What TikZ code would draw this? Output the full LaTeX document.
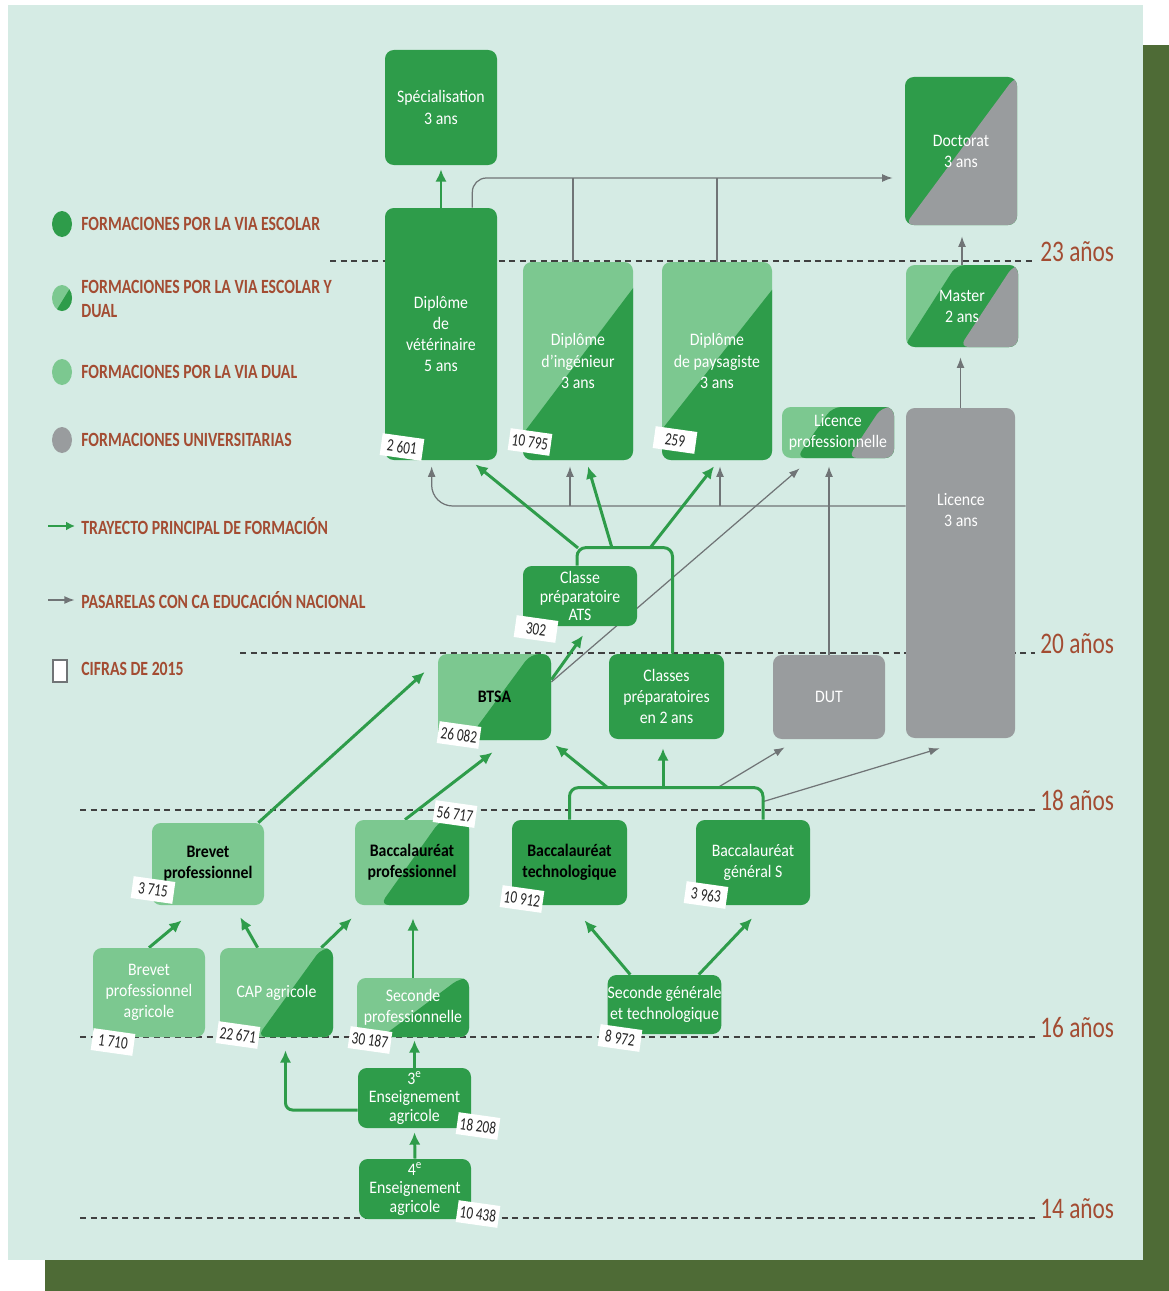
\documentclass[tikz,border=0pt]{standalone}
\usepackage{fontspec}
\setmainfont{Carlito}
\newfontfamily\boxfont[FakeStretch=0.9]{Carlito}
\newfontfamily\legfont[FakeStretch=0.78]{Carlito}
\newfontfamily\numfont[FakeStretch=0.75]{Carlito}
\usetikzlibrary{arrows.meta,calc,shapes.geometric}
\definecolor{mint}{RGB}{213,235,228}
\definecolor{olive}{RGB}{78,107,54}
\definecolor{dgreen}{RGB}{46,156,74}
\definecolor{lgreen}{RGB}{124,200,144}
\definecolor{ugrey}{RGB}{153,156,158}
\definecolor{agrey}{RGB}{112,116,118}
\definecolor{brick}{RGB}{163,76,50}
\pgfdeclarelayer{bg}
\pgfdeclarelayer{lines}
\pgfsetlayers{bg,lines,main}

\tikzset{
    wh/.style 2 args={minimum width=#1*0.02cm, minimum height=#2*0.02cm},
    box/.style={rectangle, rounded corners=5pt, inner sep=0pt, align=center, text=white,
        font={\boxfont\fontsize{10}{12}\selectfont}},
    tight/.style={font={\boxfont\fontsize{10}{10.5}\selectfont}},
    darktext/.style={text=black, font={\boxfont\bfseries\fontsize{10}{12}\selectfont}},
    escolar/.style={box, fill=dgreen},
    dual/.style={box, fill=lgreen},
    univ/.style={box, fill=ugrey},
    split/.style n args={4}{fill=#1, path picture={
        \fill[#2] ($(path picture bounding box.south west)!#3!(path picture bounding box.south east)$)
            -- ($(path picture bounding box.north west)!#4!(path picture bounding box.north east)$)
            -- ++(100,0) |- (path picture bounding box.south east) -- cycle;}},
    tri/.style n args={7}{fill=#1, path picture={
        \fill[#2] ($(path picture bounding box.south west)!#4!(path picture bounding box.south east)$)
            -- ($(path picture bounding box.north west)!#5!(path picture bounding box.north east)$)
            -- ++(100,0) |- (path picture bounding box.south east) -- cycle;
        \fill[#3] ($(path picture bounding box.south west)!#6!(path picture bounding box.south east)$)
            -- ($(path picture bounding box.north west)!#7!(path picture bounding box.north east)$)
            -- ++(100,0) |- (path picture bounding box.south east) -- cycle;}},
    badge/.style={fill=white, inner sep=0pt, wh={42}{22}, rotate=-8, text=black!85,
        font={\numfont\fontsize{10}{10}\selectfont}},
    dot/.style={ellipse, inner sep=0pt, wh={20}{26}},
    legtext/.style={anchor=west, inner sep=0pt, text=brick, align=left,
        font={\legfont\bfseries\fontsize{11.5}{13.6}\selectfont}},
    age/.style={anchor=base west, inner sep=0pt, text=brick, font={\legfont\fontsize{17}{17}\selectfont}},
    ageline/.style={draw=black!75, line width=0.8pt, dash pattern=on 3.5pt off 2.5pt},
    main/.style={draw=dgreen, line width=1.7pt, -{Latex[length=7pt,width=6.5pt]}},
    fork/.style={draw=dgreen, line width=1.7pt, rounded corners=5pt},
    pass/.style={draw=agrey, line width=0.7pt, -{Latex[length=6pt,width=4.5pt]}},
    passline/.style={draw=agrey, line width=0.7pt}
}

\begin{document}
\begin{tikzpicture}[x=0.02cm, y=-0.02cm]
    \useasboundingbox (0,0) rectangle (1169,1291);
    \begin{pgfonlayer}{bg}
        \fill[white] (0,0) rectangle (1169,1291);
        \fill[olive] (45,45) rectangle (1169,1291);
        \fill[mint] (8,5) rectangle (1143,1260);
    \end{pgfonlayer}

    \node[escolar, wh={112}{115}] at (441,107.5) (spec) {Spécialisation\\3 ans};
    \node[escolar, wh={112}{252}] at (441,334) (vet) {Diplôme\\de\\vétérinaire\\5 ans};
    \node[box, split={lgreen}{dgreen}{-0.18}{1.18}, wh={110}{198}] at (578,361) (ing) {Diplôme\\d’ingénieur\\3 ans};
    \node[box, split={lgreen}{dgreen}{-0.22}{1.2}, wh={110}{198}] at (717,361) (pays) {Diplôme\\de paysagiste\\3 ans};
    \node[box, tri={lgreen}{dgreen}{ugrey}{0.13}{0.45}{0.59}{0.89}, wh={112}{51}] at (838,432.5) (lpro) {Licence\\professionnelle};
    \node[box, split={dgreen}{ugrey}{0}{0.98}, wh={112}{148}] at (961,151) (doc) {Doctorat\\3 ans};
    \node[box, tri={lgreen}{dgreen}{ugrey}{-0.02}{0.45}{0.48}{0.96}, wh={112}{82}] at (962,306) (mas) {Master\\2 ans};
    \node[univ, wh={109}{330}] at (960.5,573) (lic) {};
    \node[box] at (961,510) (lictxt) {Licence\\3 ans};
    \node[escolar, tight, wh={114}{60}] at (580,596) (ats) {Classe\\préparatoire\\ATS};
    \node[box, split={lgreen}{dgreen}{0.26}{0.82}, darktext, wh={113}{86}] at (494.5,697) (btsa) {BTSA};
    \node[escolar, wh={115}{85}] at (666.5,696.5) (cpge) {Classes\\préparatoires\\en 2 ans};
    \node[univ, wh={112}{84}] at (829,697) (dut) {DUT};
    \node[dual, darktext, wh={112}{82}] at (208,864) (bp) {Brevet\\professionnel};
    \node[box, split={lgreen}{dgreen}{0.22}{0.75}, darktext, wh={114}{85}] at (412,862.5) (bacpro) {Baccalauréat\\professionnel};
    \node[escolar, darktext, wh={115}{85}] at (569.5,862.5) (bactec) {Baccalauréat\\technologique};
    \node[escolar, wh={114}{85}] at (753,862.5) (bacgen) {Baccalauréat\\général S};
    \node[dual, wh={112}{89}] at (149,992.5) (bpa) {Brevet\\professionnel\\agricole};
    \node[box, split={lgreen}{dgreen}{0.33}{0.9}, wh={113}{89}] at (276.5,992.5) (cap) {CAP agricole};
    \node[box, split={lgreen}{dgreen}{0.22}{0.92}, wh={112}{59}] at (413,1007.5) (spro) {Seconde\\professionnelle};
    \node[escolar, wh={111}{59}] at (664.5,1004.5) (sgt) {Seconde générale\\et technologique};
    \node[escolar, tight, wh={113}{60}] at (414.5,1098) (e3) {3\textsuperscript{e}\\Enseignement\\agricole};
    \node[escolar, tight, wh={112}{60}] at (415,1189) (e4) {4\textsuperscript{e}\\Enseignement\\agricole};

    \node[badge] at (402,447) (nvet) {2 601};
    \node[badge] at (530,442) (ning) {10 795};
    \node[badge] at (675,440) (npays) {259};
    \node[badge] at (536,629) (nats) {302};
    \node[badge] at (459,735) (nbtsa) {26 082};
    \node[badge] at (153,890) (nbp) {3 715};
    \node[badge] at (455,814) (nbacpro) {56 717};
    \node[badge] at (522,899) (nbactec) {10 912};
    \node[badge] at (706,895) (nbacgen) {3 963};
    \node[badge] at (113,1042) (nbpa) {1 710};
    \node[badge] at (238,1035) (ncap) {22 671};
    \node[badge] at (370,1040) (nspro) {30 187};
    \node[badge] at (620,1038) (nsgt) {8 972};
    \node[badge] at (478,1126) (ne3) {18 208};
    \node[badge] at (478,1214) (ne4) {10 438};

    \node[dot, fill=dgreen] at (62,224) (k1) {};
    \node[legtext] at (81,224) (k1t) {FORMACIONES POR LA VIA ESCOLAR};
    \node[dot, split={lgreen}{dgreen}{0.2}{1.0}] at (62,298) (k2) {};
    \node[legtext] at (81,299) (k2t) {FORMACIONES POR LA VIA ESCOLAR Y\\DUAL};
    \node[dot, fill=lgreen] at (62,372) (k3) {};
    \node[legtext] at (81,372) (k3t) {FORMACIONES POR LA VIA DUAL};
    \node[dot, fill=ugrey] at (62,440) (k4) {};
    \node[legtext] at (81,440) (k4t) {FORMACIONES UNIVERSITARIAS};
    \coordinate (k5) at (48,526);
    \node[legtext] at (81,526) (k5t) {TRAYECTO PRINCIPAL DE FORMACIÓN};
    \coordinate (k6) at (48,600);
    \node[legtext] at (81,600) (k6t) {PASARELAS CON CA EDUCACIÓN NACIONAL};
    \node[draw=agrey, fill=white, line width=0.6pt, inner sep=0pt, wh={14}{22}] at (60,671) (k7) {};
    \node[legtext] at (81,669) (k7t) {CIFRAS DE 2015};
    \draw[main, line width=1.3pt, -{Latex[length=5pt,width=5pt]}] (k5) -- ($(k5t.west)+(-6,0)$);
    \draw[pass, line width=1pt] (k6) -- ($(k6t.west)+(-6,0)$);

    \node[age] at (1040,261) (a23) {23 años};
    \node[age] at (1040,653) (a20) {20 años};
    \node[age] at (1040,810) (a18) {18 años};
    \node[age] at (1040,1037) (a16) {16 años};
    \node[age] at (1040,1218) (a14) {14 años};

    \begin{pgfonlayer}{bg}
        \draw[ageline] (330,261) -- ($(a23.base west)+(-5,0)$);
        \draw[ageline] (240,653) -- ($(a20.base west)+(-5,0)$);
        \draw[ageline] (80,810) -- ($(a18.base west)+(-5,0)$);
        \draw[ageline] (80,1037) -- ($(a16.base west)+(-5,0)$);
        \draw[ageline] (80,1218) -- ($(a14.base west)+(-5,0)$);
    \end{pgfonlayer}

    \begin{pgfonlayer}{lines}
        \coordinate (bj1) at (608,788);
        \coordinate (bj2) at (663,788);
        \coordinate (bj3) at (717,788);
        \coordinate (aj1) at (578,548);
        \coordinate (aj2) at (612,548);
        \coordinate (aj3) at (650,548);

        \draw[pass, rounded corners=8pt] ($(vet.north east)+(-25,0)$) |- ($(doc.west)+(-12,27)$);
        \draw[passline] ($(ing.north)+(-5,0)$) -- ++(0,-84);
        \draw[passline] (pays.north) -- ++(0,-84);
        \draw[pass] (mas.north) -- ($(mas.north |- doc.south)+(0,11)$);
        \draw[pass] (lic.north) -- ($(lic.north |- mas.south)+(0,10)$);
        \draw[pass, rounded corners=12pt] ($(lic.west)+(0,-67)$) -| ($(vet.south west)+(47,6)$);
        \draw[pass] ($(ing.south)+(-8,46)$) -- ($(ing.south)+(-8,6)$);
        \draw[pass] ($(pays.south)+(3,46)$) -- ($(pays.south)+(3,6)$);
        \draw[pass] (dut.north) -- ($(dut.north |- lpro.south)+(0,8)$);
        \draw[pass] ($(btsa.east)+(0,-15)$) -- ($(lpro.south west)+(18,10)$);
        \draw[pass] ($(bacgen.north)+(10,-18)$) -- ($(lic.south west)+(34,10)$);
        \draw[pass] (bj3) -- ($(dut.south west)+(12,8)$);

        \draw[main] (vet.north) -- ($(spec.south)+(0,4)$);
        \draw[main] (e4.north) -- ($(e3.south)+(0,4)$);
        \draw[main] (e3.north) -- ($(e3.north |- spro.south)+(0,3)$);
        \draw[main, rounded corners=4pt] ($(e3.west)+(0,12)$) -| ($(cap.south)+(9,13)$);
        \draw[main] (spro.north) -- ($(spro.north |- bacpro.south)+(0,13)$);
        \draw[main] ($(cap.north east)+(-12,0)$) -- ($(bacpro.south west)+(-3,13)$);
        \draw[main] ($(cap.north west)+(38,0)$) -- ($(bp.south east)+(-24,12)$);
        \draw[main] (bpa.north) -- ($(bp.south west)+(30,15)$);
        \draw[main] ($(bp.north east)+(-6,0)$) -- ($(btsa.west)+(-13,-25)$);
        \draw[main] ($(bacpro.north)+(-7,0)$) -- ($(btsa.south)+(-2,12)$);
        \draw[main] ($(sgt.north west)+(23,0)$) -- ($(bactec.south)+(15,15)$);
        \draw[main] ($(sgt.north east)+(-23,0)$) -- ($(bacgen.south)+(-1,13)$);
        \draw[fork] (bactec.north) -- ++(0,-32) -| ($(bacgen.north)+(10,0)$);
        \draw[main] (bj1) -- ($(btsa.south east)+(4,5)$);
        \draw[main] (bj2) -- ($(cpge.south)+(-3.5,9)$);
        \draw[main] ($(btsa.north east)+(0,26)$) -- ($(ats.south)+(3,9)$);
        \draw[fork] ($(ats.north)+(-3,0)$) -- ++(0,-18) -| ($(cpge.north)+(6,0)$);
        \draw[main] (aj1) -- ($(vet.south east)+(-22,4)$);
        \draw[main] (aj2) -- ($(ing.south)+(10,6)$);
        \draw[main] (aj3) -- ($(pays.south)+(-3,6)$);
    \end{pgfonlayer}
\end{tikzpicture}
\end{document}
